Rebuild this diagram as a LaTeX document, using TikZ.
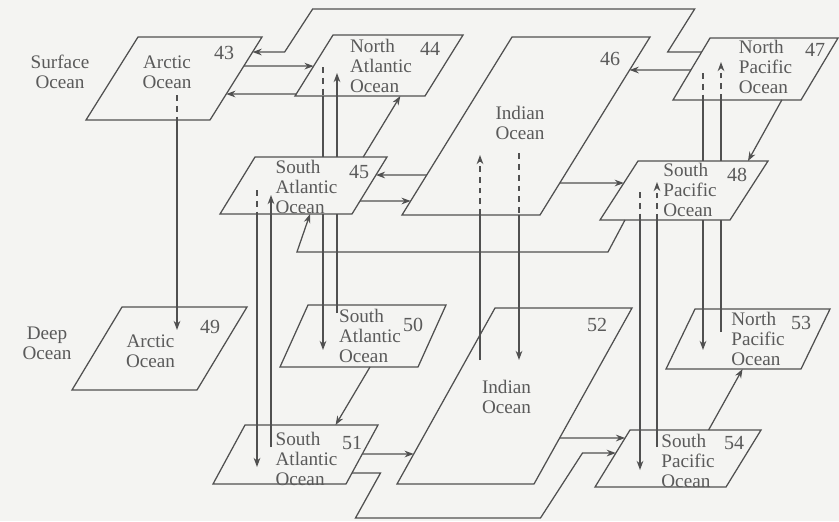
\documentclass[tikz,border=0pt]{standalone}
\usepackage{fontspec}
\setmainfont{Liberation Serif}
\usepackage{tikz}
\usetikzlibrary{arrows.meta, calc}
\definecolor{PaperBg}{HTML}{F4F4F2}
\definecolor{InkLine}{HTML}{505050}
\definecolor{InkText}{HTML}{5A5A5A}
\tikzset{
  oceanfill/.style={draw=InkLine, fill=PaperBg, line width=0.75pt, line join=miter},
  % parallelogram: bottom width, height, slant
  pics/ocean/.style n args={3}{code={
    \coordinate (-bl) at (0,0);
    \coordinate (-br) at (#1,0);
    \coordinate (-tr) at (#1+#3,-#2);
    \coordinate (-tl) at (#3,-#2);
    \filldraw[oceanfill] (-bl) -- (-br) -- (-tr) -- (-tl) -- cycle;
  }},
  lbl/.style={font=\fontsize{11.5}{12}\selectfont, text=InkText, inner sep=0pt, align=left},
  num/.style={font=\fontsize{12}{12}\selectfont, text=InkText, inner sep=0pt},
  line/.style={draw=InkLine, line width=0.75pt},
  arr/.style={line, -{Stealth[length=5.5pt, width=4pt]}},
  hid/.style={dash pattern=on 3.5pt off 3pt},
}

\begin{document}
\begin{tikzpicture}[x=0.6pt, y=-0.6pt]

  \fill[PaperBg] (0,0) rectangle (839,521);

  % Layer titles
  \node[lbl, align=center] (surf) at (60,72)  {Surface\\Ocean};
  \node[lbl, align=center] (deep) at (47,343) {Deep\\Ocean};

  % Surface ocean
  \pic (a43) at (86,120)  {ocean={124}{83}{52}};
  \pic (a44) at (295,96)  {ocean={130}{61}{38}};
  \pic (a45) at (220,214) {ocean={132}{57}{35}};
  \pic (a46) at (402,215) {ocean={138}{178}{110}};
  \pic (a47) at (673,100) {ocean={128}{62}{37}};
  \pic (a48) at (600,220) {ocean={130}{59}{38}};

  % Deep ocean
  \pic (a49) at (72,390)  {ocean={125}{83}{50}};
  \pic (a50) at (280,367) {ocean={138}{62}{28}};
  \pic (a51) at (213,484) {ocean={133}{59}{32}};
  \pic (a52) at (397,484) {ocean={137}{176}{98}};
  \pic (a53) at (666,369) {ocean={135}{60}{29}};
  \pic (a54) at (595,487) {ocean={131}{57}{35}};

  % Names
  \node[lbl, align=center] (t43) at ($(a43-bl)!0.5!(a43-tr)+(-7,-6)$)  {Arctic\\Ocean};
  \node[lbl]               (t44) at ($(a44-bl)!0.5!(a44-tr)+(2,0)$)    {North\\Atlantic\\Ocean};
  \node[lbl]               (t45) at ($(a45-bl)!0.5!(a45-tr)+(3,1)$)    {South\\Atlantic\\Ocean};
  \node[lbl, align=center] (t46) at ($(a46-bl)!0.5!(a46-tr)+(-6,-3)$)  {Indian\\Ocean};
  \node[lbl]               (t47) at ($(a47-bl)!0.5!(a47-tr)+(10,-2)$)  {North\\Pacific\\Ocean};
  \node[lbl]               (t48) at ($(a48-bl)!0.5!(a48-tr)+(6,-1)$)   {South\\Pacific\\Ocean};
  \node[lbl, align=center] (t49) at ($(a49-bl)!0.5!(a49-tr)+(-9,3)$)   {Arctic\\Ocean};
  \node[lbl]               (t50) at ($(a50-bl)!0.5!(a50-tr)+(7,0)$)    {South\\Atlantic\\Ocean};
  \node[lbl]               (t51) at ($(a51-bl)!0.5!(a51-tr)+(11,4.5)$) {South\\Atlantic\\Ocean};
  \node[lbl, align=center] (t52) at ($(a52-bl)!0.5!(a52-tr)+(-8,1)$)   {Indian\\Ocean};
  \node[lbl]               (t53) at ($(a53-bl)!0.5!(a53-tr)+(10,0)$)   {North\\Pacific\\Ocean};
  \node[lbl]               (t54) at ($(a54-bl)!0.5!(a54-tr)+(10,2)$)   {South\\Pacific\\Ocean};

  % Numbers
  \node[num] (n43) at ($(a43-tr)+(-38,16)$) {43};
  \node[num] (n44) at ($(a44-tr)+(-33,14)$) {44};
  \node[num] (n45) at ($(a45-tr)+(-28,15)$) {45};
  \node[num] (n46) at ($(a46-tr)+(-40,22)$) {46};
  \node[num] (n47) at ($(a47-tr)+(-23,12)$) {47};
  \node[num] (n48) at ($(a48-tr)+(-31,14)$) {48};
  \node[num] (n49) at ($(a49-tr)+(-37,20)$) {49};
  \node[num] (n50) at ($(a50-tr)+(-33,20)$) {50};
  \node[num] (n51) at ($(a51-tr)+(-26,18)$) {51};
  \node[num] (n52) at ($(a52-tr)+(-35,17)$) {52};
  \node[num] (n53) at ($(a53-tr)+(-29,14)$) {53};
  \node[num] (n54) at ($(a54-tr)+(-27,13)$) {54};

  % Columns of the vertical exchanges
  \coordinate (c43)  at (177,0);
  \coordinate (c44d) at (323,0);
  \coordinate (c44u) at (337,0);
  \coordinate (c45d) at (257,0);
  \coordinate (c45u) at (271,0);
  \coordinate (c46u) at (480,0);
  \coordinate (c46d) at (519,0);
  \coordinate (c48d) at (640,0);
  \coordinate (c48u) at (657,0);
  \coordinate (c47d) at (703,0);
  \coordinate (c47u) at (721,0);

  % Vertical exchanges
  \draw[line,hid] ($(c43 |- a43-tl)+(0,58)$) -- (c43 |- a43-bl);
  \draw[arr] (c43 |- a43-bl) -- ($(c43 |- a49-tl)+(0,23)$);

  \draw[line,hid] ($(c44d |- a44-tl)+(0,32)$) -- (c44d |- a44-bl);
  \draw[line] (c44d |- a44-bl) -- (c44d |- a45-tl);
  \draw[arr] (c44d |- a45-bl) -- ($(c44d |- a50-tl)+(0,45)$);
  \draw[line] ($(c44u |- a50-tl)+(0,8)$) -- (c44u |- a45-bl);
  \draw[arr] (c44u |- a45-tl) -- ($(c44u |- a44-tl)+(0,38)$);

  \draw[line,hid] ($(c45d |- a45-tl)+(0,33)$) -- (c45d |- a45-bl);
  \draw[arr] (c45d |- a45-bl) -- ($(c45d |- a51-tl)+(0,42)$);
  \draw[arr] ($(c45u |- a51-tl)+(0,22)$) -- ($(c45u |- a45-tl)+(0,38)$);

  \draw[line] ($(c46u |- a52-tl)+(0,52)$) -- (c46u |- a46-bl);
  \draw[arr,hid] (c46u |- a46-bl) -- ($(c46u |- a46-tl)+(0,118)$);
  \draw[line,hid] ($(c46d |- a46-tl)+(0,116)$) -- (c46d |- a46-bl);
  \draw[arr] (c46d |- a46-bl) -- ($(c46d |- a52-tl)+(0,52)$);

  \draw[line,hid] ($(c48d |- a48-tl)+(0,31)$) -- (c48d |- a48-bl);
  \draw[arr] (c48d |- a48-bl) -- ($(c48d |- a54-tl)+(0,40)$);
  \draw[line] ($(c48u |- a54-tl)+(0,17)$) -- (c48u |- a48-bl);
  \draw[arr,hid] (c48u |- a48-bl) -- ($(c48u |- a48-tl)+(0,21)$);

  \draw[line,hid] ($(c47d |- a47-tl)+(0,35)$) -- (c47d |- a47-bl);
  \draw[line] (c47d |- a47-bl) -- (c47d |- a48-tl);
  \draw[arr] (c47d |- a48-bl) -- ($(c47d |- a53-tl)+(0,41)$);
  \draw[line] ($(c47u |- a53-tl)+(0,23)$) -- (c47u |- a48-bl);
  \draw[line] (c47u |- a48-tl) -- (c47u |- a47-bl);
  \draw[arr,hid] (c47u |- a47-bl) -- ($(c47u |- a47-tl)+(0,24)$);

  % Surface flows
  \draw[arr] ($(a47-bl)!0.774!(a47-tl)$)
    -- ++(-34,0) -- ++(27,-43) -- ++(-382,0) -- ++(-28,43)
    -- ($(a43-br)!0.819!(a43-tr)$);
  \draw[arr] ($(a43-br)!0.65!(a43-tr)$) -- ($(a44-bl)!0.49!(a44-tl)$);
  \draw[arr] ($(a44-bl)!0.033!(a44-tl)$) -- ($(a43-br)!0.313!(a43-tr)$);
  \draw[arr] ($(a45-tl)!0.82!(a45-tr)$) -- ($(a44-bl)!0.81!(a44-br)$);
  \draw[arr] ($(a46-bl)!0.225!(a46-tl)$) -- ($(a45-br)!0.684!(a45-tr)$);
  \draw[arr] ($(a45-br)!0.228!(a45-tr)$) -- ($(a46-bl)!0.0787!(a46-tl)$);
  \draw[arr] ($(a47-bl)!0.484!(a47-tl)$) -- ($(a46-br)!0.8146!(a46-tr)$);
  \draw[arr] ($(a46-br)!0.18!(a46-tr)$) -- ($(a48-bl)!0.627!(a48-tl)$);
  \draw[arr] ($(a47-bl)!0.85!(a47-br)$) -- ($(a48-tl)!0.846!(a48-tr)$);
  \draw[arr] ($(a48-bl)!0.192!(a48-br)$)
    -- ++(-17,32) -- ++(-311,0)
    -- ($(a45-bl)!0.682!(a45-br)$);

  % Deep flows
  \draw[arr] ($(a50-bl)!0.652!(a50-br)$) -- ($(a51-tl)!0.681!(a51-tr)$);
  \draw[arr] ($(a51-br)!0.508!(a51-tr)$) -- ($(a52-bl)!0.1705!(a52-tl)$);
  \draw[arr] ($(a51-br)!0.186!(a51-tr)$)
    -- ++(28.5,0) -- ++(-25,45) -- ++(185,0) -- ++(42,-65)
    -- ($(a54-bl)!0.596!(a54-tl)$);
  \draw[arr] ($(a52-br)!0.261!(a52-tr)$) -- ($(a54-bl)!0.86!(a54-tl)$);
  \draw[arr] ($(a54-tl)!0.6!(a54-tr)$) -- ($(a53-bl)!0.567!(a53-br)$);

\end{tikzpicture}
\end{document}
